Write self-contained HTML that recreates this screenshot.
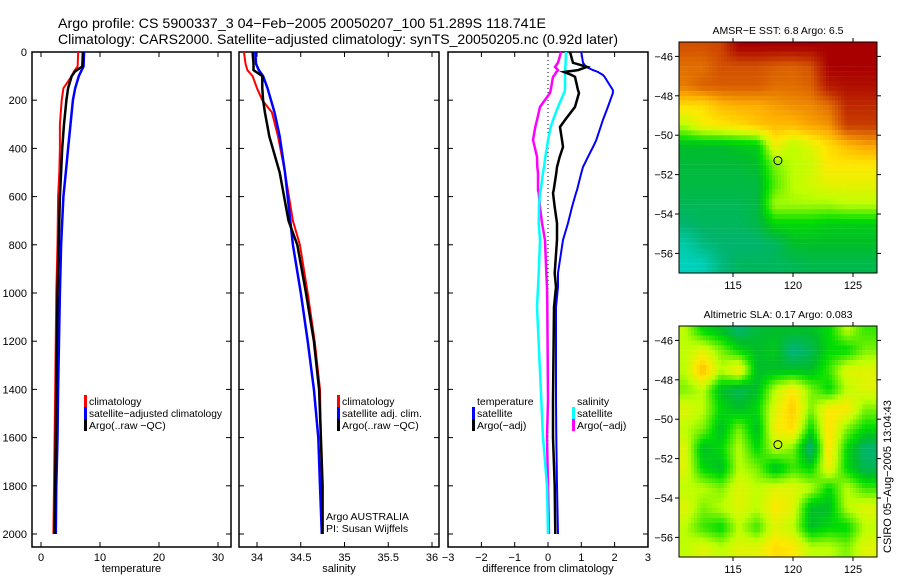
<!DOCTYPE html>
<html><head><meta charset="utf-8"><style>
html,body{margin:0;padding:0;background:#fff;}
svg{display:block;font-family:"Liberation Sans",sans-serif;}
</style></head><body>
<svg id="fig" width="900" height="580" viewBox="0 0 900 580" xmlns="http://www.w3.org/2000/svg">
<text x="58" y="28" font-size="14" textLength="488" lengthAdjust="spacingAndGlyphs">Argo profile: CS 5900337_3 04−Feb−2005 20050207_100 51.289S 118.741E</text>
<text x="58" y="44" font-size="14" textLength="560" lengthAdjust="spacingAndGlyphs">Climatology: CARS2000. Satellite−adjusted climatology: synTS_20050205.nc (0.92d later)</text>
<g id="panels"></g>
<text x="0" y="0" font-size="11" transform="translate(891,553) rotate(-90)">CSIRO 05−Aug−2005 13:04:43</text>
</svg>
<script>
// ---------- profile data ----------
const tDepth = [0,60,80,100,150,200,300,400,500,600,800,1000,1400,1600,1800,2000];
const tClim  = [6.3,6.2,5.6,5.2,3.8,3.5,3.2,3.2,3.1,2.9,2.8,2.6,2.4,2.3,2.2,2.1];
const tSat   = [7.3,7.2,6.8,6.4,5.8,5.4,5.0,4.6,4.2,3.8,3.4,3.2,2.9,2.8,2.6,2.5];
const tArgo  = [7.1,7.0,5.8,5.2,4.6,4.3,3.9,3.6,3.4,3.2,3.0,2.8,2.6,2.5,2.4,2.3];
const sDepth = [0,50,75,100,150,200,250,350,500,700,800,1000,1200,1400,1600,1800,2000];
const sClim  = [33.85,33.87,33.89,33.95,34.0,34.06,34.17,34.24,34.32,34.41,34.49,34.58,34.66,34.72,34.73,34.74,34.74];
const sSat   = [33.98,33.99,34.02,34.07,34.12,34.16,34.2,34.26,34.32,34.38,34.41,34.5,34.58,34.65,34.70,34.72,34.74];
const sArgo  = [33.95,33.96,33.96,34.06,34.06,34.07,34.09,34.14,34.26,34.36,34.46,34.56,34.65,34.71,34.73,34.75,34.75];
const dDepth = [0,45,62,75,83,95,103,158,170,228,282,311,365,394,435,477,502,573,585,643,710,780,917,975,1058,1444,1600,1800,2000];
const dTempSat  = [1.0,1.05,1.15,1.35,1.5,1.65,1.7,1.95,1.95,1.8,1.65,1.58,1.45,1.35,1.2,1.05,1.0,0.87,0.84,0.72,0.6,0.45,0.3,0.3,0.24,0.24,0.25,0.27,0.3];
const dTempArgo = [0.66,0.75,1.17,0.9,0.48,0.7,0.81,0.9,0.93,0.81,0.51,0.36,0.42,0.45,0.35,0.27,0.25,0.17,0.15,0.2,0.27,0.27,0.2,0.24,0.18,0.15,0.15,0.2,0.22];
const dSalSat   = [0.54,0.53,0.52,0.52,0.51,0.51,0.51,0.51,0.48,0.3,0.15,0.08,0.0,-0.03,-0.08,-0.12,-0.15,-0.22,-0.24,-0.27,-0.28,-0.24,-0.28,-0.3,-0.33,-0.2,-0.15,-0.03,0.0];
const dSalArgo  = [0.39,0.3,0.21,0.3,0.25,0.2,0.15,0.08,0.06,-0.24,-0.33,-0.38,-0.45,-0.4,-0.33,-0.32,-0.3,-0.3,-0.28,-0.24,-0.18,-0.09,-0.05,-0.03,-0.02,0.0,-0.03,0.0,0.03];
// ---------- map data (coarse grids, colour index 0..1) ----------
const mapLon = [111,112.5,114,115.5,117,118.5,120,121.5,123,124.5,126];
const mapLat = [-45.5,-46.5,-47.5,-48.5,-49.5,-50.5,-51.5,-52.5,-53.5,-54.5,-55.5,-56.5];
const sstGrid = [
[0.85,0.85,0.87,1,1,1,1,1,1,1,1],
[0.8,0.8,0.85,0.85,0.85,0.83,0.82,0.85,1,1,1],
[0.78,0.82,0.83,0.83,0.83,0.8,0.8,0.82,0.95,0.97,0.97],
[0.62,0.62,0.68,0.7,0.7,0.73,0.75,0.76,0.8,0.92,0.92],
[0.5,0.58,0.6,0.62,0.66,0.68,0.68,0.72,0.74,0.88,0.88],
[0.3,0.3,0.3,0.32,0.33,0.58,0.5,0.55,0.62,0.68,0.72],
[0.28,0.28,0.28,0.28,0.3,0.45,0.5,0.52,0.6,0.6,0.6],
[0.27,0.27,0.27,0.27,0.27,0.42,0.5,0.53,0.56,0.56,0.56],
[0.25,0.25,0.25,0.25,0.27,0.48,0.48,0.48,0.48,0.5,0.5],
[0.22,0.24,0.24,0.24,0.26,0.35,0.35,0.35,0.33,0.33,0.33],
[0.15,0.2,0.22,0.22,0.22,0.24,0.3,0.3,0.3,0.3,0.3],
[0.12,0.13,0.2,0.24,0.24,0.24,0.25,0.26,0.26,0.26,0.26]];
const slaGrid = [
[0.5,0.35,0.3,0.22,0.28,0.3,0.3,0.3,0.35,0.5,0.4],
[0.5,0.55,0.45,0.35,0.3,0.32,0.2,0.25,0.35,0.35,0.45],
[0.5,0.68,0.5,0.6,0.3,0.3,0.3,0.3,0.4,0.55,0.55],
[0.45,0.5,0.3,0.25,0.3,0.5,0.6,0.45,0.35,0.5,0.55],
[0.55,0.5,0.35,0.3,0.35,0.55,0.65,0.45,0.6,0.6,0.45],
[0.5,0.45,0.3,0.45,0.3,0.58,0.62,0.35,0.62,0.45,0.35],
[0.55,0.3,0.35,0.5,0.35,0.5,0.45,0.2,0.62,0.35,0.22],
[0.55,0.35,0.3,0.5,0.45,0.3,0.4,0.35,0.58,0.35,0.25],
[0.5,0.5,0.45,0.55,0.5,0.55,0.55,0.5,0.35,0.5,0.4],
[0.55,0.45,0.5,0.55,0.5,0.6,0.55,0.3,0.3,0.5,0.55],
[0.5,0.4,0.35,0.5,0.4,0.55,0.5,0.3,0.35,0.35,0.5],
[0.5,0.55,0.5,0.55,0.55,0.62,0.6,0.5,0.5,0.45,0.55]];
const argoLon = 118.741, argoLat = -51.289;
const depthTicks = [0,200,400,600,800,1000,1200,1400,1600,1800,2000];
const tTicks = [0,10,20,30];
const sTicks = [34,34.5,35,35.5,36];
const sTickLabels = ['34','34.5','35','35.5','36'];
const dTicks = [-3,-2,-1,0,1,2,3];
const latTicks = [-46,-48,-50,-52,-54,-56];
const lonTicks = [115,120,125];

const NS='http://www.w3.org/2000/svg';
const root=document.getElementById('panels');
function mk(tag,attrs,parent){const e=document.createElementNS(NS,tag);for(const k in attrs)e.setAttribute(k,attrs[k]);(parent||root).appendChild(e);return e;}
const top0=52, bot0=547;
const yD = d => 52 + d*0.241;
function panel(name,x0,x1,xf,ticks,labels,xlabel){
  const g=mk('g',{});
  
  
  const r=mk('rect',{x:x0,y:top0,width:x1-x0,height:bot0-top0,fill:'none',stroke:'#000','stroke-width':1.5},g);
  
  
  ticks.forEach((t,i)=>{const x=xf(t);
    if(x>=x0-1&&x<=x1+1){mk('line',{x1:x,x2:x,y1:bot0,y2:bot0-5,stroke:'#000'},g);mk('line',{x1:x,x2:x,y1:top0,y2:top0+5,stroke:'#000'},g);}
    const tx=mk('text',{x:x,y:bot0+14,'font-size':11,'text-anchor':'middle'},g);tx.textContent=labels[i];
    
    
  });
  depthTicks.forEach(d=>{const y=yD(d);
    mk('line',{x1:x0,x2:x0+5,y1:y,y2:y,stroke:'#000'},g);mk('line',{x1:x1,x2:x1-5,y1:y,y2:y,stroke:'#000'},g);});
  const xl=mk('text',{x:(x0+x1)/2,y:572,'font-size':11,'text-anchor':'middle'},g);xl.textContent=xlabel;
  
  
  return g;
}
function line(g,name,depths,vals,xf,color,w){
  const pts=depths.map((d,i)=>xf(vals[i]).toFixed(1)+','+yD(d).toFixed(1)).join(' ');
  const p=mk('polyline',{points:pts,fill:'none',stroke:color,'stroke-width':w},g);
  
  
}
function legend(g,x,y,color,label,len){
  if(color){mk('rect',{x:x,y:y-10,width:3,height:12,fill:color},g);}
  const at={x:x+5,y:y,'font-size':10.5};
  if(len){at.textLength=len;at.lengthAdjust='spacingAndGlyphs';}
  const t=mk('text',at,g);t.textContent=label;
  
  
}
// depth labels
depthTicks.forEach(d=>{const t=mk('text',{x:27,y:yD(d)+4,'font-size':11,'text-anchor':'end'});t.textContent=d;
  
  });
// panel 1
const xT=v=>41+v*5.9;
const g1=panel('temperature-panel',32,231,xT,tTicks,tTicks.map(String),'temperature');
line(g1,'temp-climatology-line',tDepth,tClim,xT,'#f00',2);
line(g1,'temp-satellite-line',tDepth,tSat,xT,'#00f',2.5);
line(g1,'temp-argo-line',tDepth,tArgo,xT,'#000',2.5);
legend(g1,84,405,'#f00','climatology');
legend(g1,84,417,'#00f','satellite−adjusted climatology',133);
legend(g1,84,429,'#000','Argo(..raw −QC)');
// panel 2
const xS=v=>257+(v-34)*87.5;
const g2=panel('salinity-panel',239,439,xS,sTicks,sTickLabels,'salinity');
line(g2,'sal-climatology-line',sDepth,sClim,xS,'#f00',2);
line(g2,'sal-satellite-line',sDepth,sSat,xS,'#00f',2.5);
line(g2,'sal-argo-line',sDepth,sArgo,xS,'#000',2.5);
legend(g2,337,405,'#f00','climatology');
legend(g2,337,417,'#00f','satellite adj. clim.');
legend(g2,337,429,'#000','Argo(..raw −QC)');
const a1=mk('text',{x:326,y:520,'font-size':10.5},g2);a1.textContent='Argo AUSTRALIA';


const a2=mk('text',{x:326,y:532,'font-size':10.5},g2);a2.textContent='PI: Susan Wijffels';


// panel 3
const xDf=v=>548+v*33.3;
const g3=panel('difference-panel',448,648,xDf,dTicks,dTicks.map(v=>v<0?'−'+(-v):String(v)),'difference from climatology');
mk('line',{x1:xDf(0),x2:xDf(0),y1:top0,y2:yD(2000),stroke:'#000','stroke-dasharray':'1,3'},g3);
line(g3,'diff-temp-satellite-line',dDepth,dTempSat,xDf,'#00f',2);
line(g3,'diff-sal-argo-line',dDepth,dSalArgo,xDf,'#f0f',2.5);
line(g3,'diff-sal-satellite-line',dDepth,dSalSat,xDf,'#0ff',2.5);
line(g3,'diff-temp-argo-line',dDepth,dTempArgo,xDf,'#000',2.5);
legend(g3,472,405,null,'temperature');
legend(g3,472,417,'#00f','satellite');
legend(g3,472,429,'#000','Argo(−adj)');
legend(g3,572,405,null,'salinity');
legend(g3,572,417,'#0ff','satellite');
legend(g3,572,429,'#f0f','Argo(−adj)');
// ---------- maps ----------
const stops=[[0.1,[0,215,205]],[0.22,[0,180,110]],[0.3,[0,190,40]],[0.36,[0,222,0]],[0.5,[190,255,0]],[0.6,[255,232,0]],[0.7,[255,175,0]],[0.8,[225,110,0]],[0.9,[195,50,0]],[1.0,[168,0,0]]];
function cmap(v){if(v<=stops[0][0])return stops[0][1];for(let i=1;i<stops.length;i++){if(v<=stops[i][0]){const a=stops[i-1],b=stops[i],t=(v-a[0])/(b[0]-a[0]);return a[1].map((c,k)=>Math.round(c+(b[1][k]-c)*t));}}return stops[stops.length-1][1];}
function interp(grid,lon,lat){
  let fj=(lon-mapLon[0])/1.5, fi=(mapLat[0]-lat);
  fj=Math.max(0,Math.min(mapLon.length-1.001,fj)); fi=Math.max(0,Math.min(mapLat.length-1.001,fi));
  const j=Math.floor(fj),i=Math.floor(fi),tj=fj-j,ti=fi-i;
  return grid[i][j]*(1-tj)*(1-ti)+grid[i][j+1]*tj*(1-ti)+grid[i+1][j]*(1-tj)*ti+grid[i+1][j+1]*tj*ti;
}
function map(name,title,grid,top){
  const x0=679,x1=877,y0=top,y1=top+231;
  const lonX=l=>679+(l-110.5)*12;
  const latY=l=>y0+14.4+(-46-l)*19.7;
  const g=mk('g',{});
  
  
  for(let lon=110.5;lon<127;lon+=0.25){for(let lat=-45.25;lat>-57.25;lat-=0.25){
    const xa=lonX(lon),ya=latY(lat);if(ya>=y1)continue;
    const c=cmap(interp(grid,lon+0.125,lat-0.125));
    const r=mk('rect',{x:xa.toFixed(1),y:Math.max(y0,ya).toFixed(1),width:3.2,height:(Math.min(y1,ya+5.1)-Math.max(y0,ya)).toFixed(1),fill:'rgb('+c.join(',')+')'},g);
    
    
  }}
  mk('rect',{x:x0,y:y0,width:x1-x0,height:y1-y0,fill:'none',stroke:'#000','stroke-width':1},g);
  latTicks.forEach(l=>{const y=latY(l);mk('line',{x1:x0-4,x2:x0,y1:y,y2:y,stroke:'#000'},g);mk('line',{x1:x1,x2:x1+4,y1:y,y2:y,stroke:'#000'},g);
    const t=mk('text',{x:x0-6,y:y+4,'font-size':11,'text-anchor':'end'},g);t.textContent='−'+(-l);
    
    });
  lonTicks.forEach(l=>{const x=lonX(l);mk('line',{x1:x,x2:x,y1:y1,y2:y1+4,stroke:'#000'},g);mk('line',{x1:x,x2:x,y1:y0,y2:y0-4,stroke:'#000'},g);
    const t=mk('text',{x:x,y:y1+16,'font-size':11,'text-anchor':'middle'},g);t.textContent=l;
    
    });
  const tt=mk('text',{x:(x0+x1)/2,y:y0-8,'font-size':10.5,'text-anchor':'middle'},g);tt.textContent=title;
  
  
  const c=mk('circle',{cx:lonX(argoLon),cy:latY(argoLat),r:4,fill:'none',stroke:'#000','stroke-width':1},g);
  
  
}
map('sst-map','AMSR−E SST: 6.8 Argo: 6.5',sstGrid,42);
map('sla-map','Altimetric SLA: 0.17 Argo: 0.083',slaGrid,326);
</script>
</body></html>
